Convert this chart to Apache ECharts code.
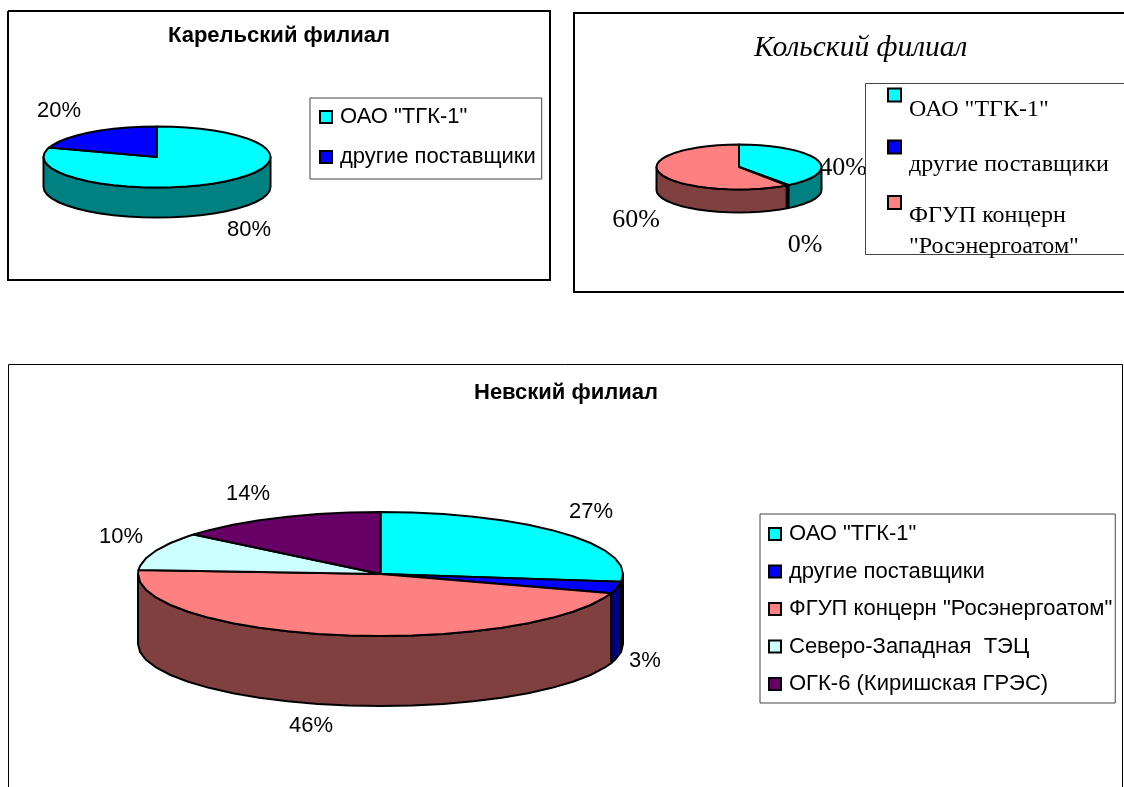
<!DOCTYPE html>
<html><head><meta charset="utf-8">
<style>html,body{margin:0;padding:0;background:#fff}#c{width:1124px;height:787px}</style>
<script src="https://cdn.jsdelivr.net/npm/echarts@6/dist/echarts.min.js"></script>
</head><body><div id="c"></div>
<script>
// ---- data ----
const karelCategories = ['ОАО "ТГК-1"', 'другие поставщики'];
const karelValues = [80, 20];
const kolaCategories = ['ОАО "ТГК-1"', 'другие поставщики', 'ФГУП концерн\n"Росэнергоатом"'];
const kolaValues = [39.8, 0.4, 59.8];
const nevaCategories = ['ОАО "ТГК-1"', 'другие поставщики', 'ФГУП концерн "Росэнергоатом"', 'Северо-Западная  ТЭЦ', 'ОГК-6 (Киришская ГРЭС)'];
const nevaValues = [27, 3, 46, 10, 14];
const karelTitle = 'Карельский филиал';
const kolaTitle = 'Кольский филиал';
const nevaTitle = 'Невский филиал';

// ---- styles ----
const topColors = ['#00FFFF', '#0000FF', '#FF8080', '#CCFFFF', '#660066'];
const wallColors = ['#008080', '#000080', '#804040', '#669999', '#330033'];
const SANS = '"Liberation Sans", Arial, sans-serif';
const SERIF = '"Liberation Serif", "Times New Roman", serif';

const karelLayout = {cx:157, cy:157, rx:113.5, ry:30.5, depth:30, font:'22px '+SANS, lw:2,
  labels:[[249,230],[59,111]]};
const kolaLayout = {cx:739, cy:167, rx:82.5, ry:22.5, depth:23, font:'26px '+SERIF, lw:2,
  labels:[[843,168],[805,245],[636,220]]};
const nevaLayout = {cx:380.5, cy:574, rx:242.5, ry:62, depth:70, font:'22px '+SANS, lw:2,
  labels:[[591,512],[645,661],[311,726],[121,537],[248,494]]};

const RAD = Math.PI/180, STEP = 7.5;
function pt(g, deg, dy){
  return [g.cx + g.rx*Math.sin(deg*RAD), g.cy - g.ry*Math.cos(deg*RAD) + (dy||0)];
}
function arc(g, a0, a1, dy){
  const out=[pt(g,a0,dy)];
  let a=(Math.floor(a0/STEP)+1)*STEP;
  for(;a<a1;a+=STEP) out.push(pt(g,a,dy));
  out.push(pt(g,a1,dy));
  return out;
}
function pieSeries(id, cats, vals, g){
  const total = vals.reduce((s,v)=>s+v,0);
  let acc = 0;
  return cats.map((name,i)=>{
    const a0 = acc/total*360; acc += vals[i]; const a1 = acc/total*360;
    return {
      type:'custom', name, id:id+i, coordinateSystem:'none', silent:true, clip:false,
      itemStyle:{color:topColors[i]},
      data:[[vals[i]]],
      renderItem:function(){
        const children=[];
        const w0=Math.max(a0,90), w1=Math.min(a1,270);
        if(w1>w0){
          const top=arc(g,w0,w1,0), bot=arc(g,w0,w1,g.depth).reverse();
          children.push({type:'polygon',z2:1,shape:{points:top.concat(bot)},
            style:{fill:wallColors[i],stroke:'#000',lineWidth:g.lw,lineJoin:'round'}});
        }
        children.push({type:'polygon',z2:2,shape:{points:[[g.cx,g.cy]].concat(arc(g,a0,a1,0))},
          style:{fill:topColors[i],stroke:'#000',lineWidth:g.lw,lineJoin:'round'}});
        children.push({type:'text',z2:3,style:{text:Math.round(vals[i]/total*100)+'%',
          x:g.labels[i][0],y:g.labels[i][1],align:'center',verticalAlign:'middle',font:g.font,fill:'#000'}});
        return {type:'group',children};
      }
    };
  });
}
function frame(points, lw){
  return {type:'polyline',silent:true,z:0,shape:{points},style:{fill:null,stroke:'#000',lineWidth:lw}};
}
const marker = {borderColor:'#000',borderWidth:2};
const kolaText = {fontFamily:SERIF,fontSize:24,color:'#000'};
function kolaRich(blank, line){
  return {h:Object.assign({},kolaText,{height:blank,lineHeight:blank}),a:Object.assign({},kolaText,{lineHeight:line})};
}
function kolaLegend(name, top, formatter, rich){
  return {data:[name],orient:'vertical',left:887,top,icon:'rect',itemWidth:13,itemHeight:13,padding:0,z:5,
    selectedMode:false,itemStyle:marker,formatter,
    textStyle:Object.assign({},kolaText,{padding:[0,0,0,3],rich})};
}
const kolaFmt = n => '{h|\u00a0}\n' + n.split('\n').map(s=>'{a|'+s+'}').join('\n');
const chart = echarts.init(document.getElementById('c'),null,{renderer:'canvas'});
chart.setOption({
  animation:false,
  backgroundColor:'#fff',
  tooltip:{show:false},
  graphic:[
    frame([[8,11],[550,11],[550,280],[8,280],[8,11]],2),
    frame([[1130,13],[574,13],[574,292],[1130,292]],2),
    frame([[8.5,787],[8.5,364.5],[1122.5,364.5],[1122.5,787]],1),
    {type:'rect',silent:true,z:4,shape:{x:865.5,y:83.5,width:270,height:171},style:{fill:'#fff',stroke:'#444',lineWidth:1}}
  ],
  title:[
    {text:karelTitle,left:168,top:25,padding:0,textStyle:{fontFamily:SANS,fontWeight:'bold',fontSize:22,color:'#000'}},
    {text:kolaTitle,left:754,top:33,padding:0,textStyle:{fontFamily:SERIF,fontStyle:'italic',fontWeight:'normal',fontSize:29.5,color:'#000'}},
    {text:nevaTitle,left:474,top:382,padding:0,textStyle:{fontFamily:SANS,fontWeight:'bold',fontSize:22,color:'#000'}}
  ],
  legend:[
    {data:karelCategories,orient:'vertical',left:310,top:98,icon:'rect',itemWidth:12,itemHeight:12,itemGap:18,
     padding:[8,6,11,9],backgroundColor:'#fff',borderColor:'#444',borderWidth:1,selectedMode:false,itemStyle:marker,
     textStyle:{fontFamily:SANS,fontSize:22,color:'#000',padding:[0,0,0,3]}},
    kolaLegend(kolaCategories[0],67,kolaFmt,kolaRich(30,26)),
    kolaLegend(kolaCategories[1],113,kolaFmt,kolaRich(36,32)),
    kolaLegend(kolaCategories[2],143,kolaFmt,kolaRich(57,31)),
    {data:nevaCategories,orient:'vertical',left:760,top:514,icon:'rect',itemWidth:12,itemHeight:12,itemGap:15.5,
     padding:[9,3,8,8],backgroundColor:'#fff',borderColor:'#444',borderWidth:1,selectedMode:false,itemStyle:marker,
     textStyle:{fontFamily:SANS,fontSize:22,color:'#000',padding:[0,0,0,3]}}
  ],
  series:[].concat(
    pieSeries('karel',karelCategories,karelValues,karelLayout),
    pieSeries('kola',kolaCategories,kolaValues,kolaLayout),
    pieSeries('neva',nevaCategories,nevaValues,nevaLayout))
});
</script></body></html>
